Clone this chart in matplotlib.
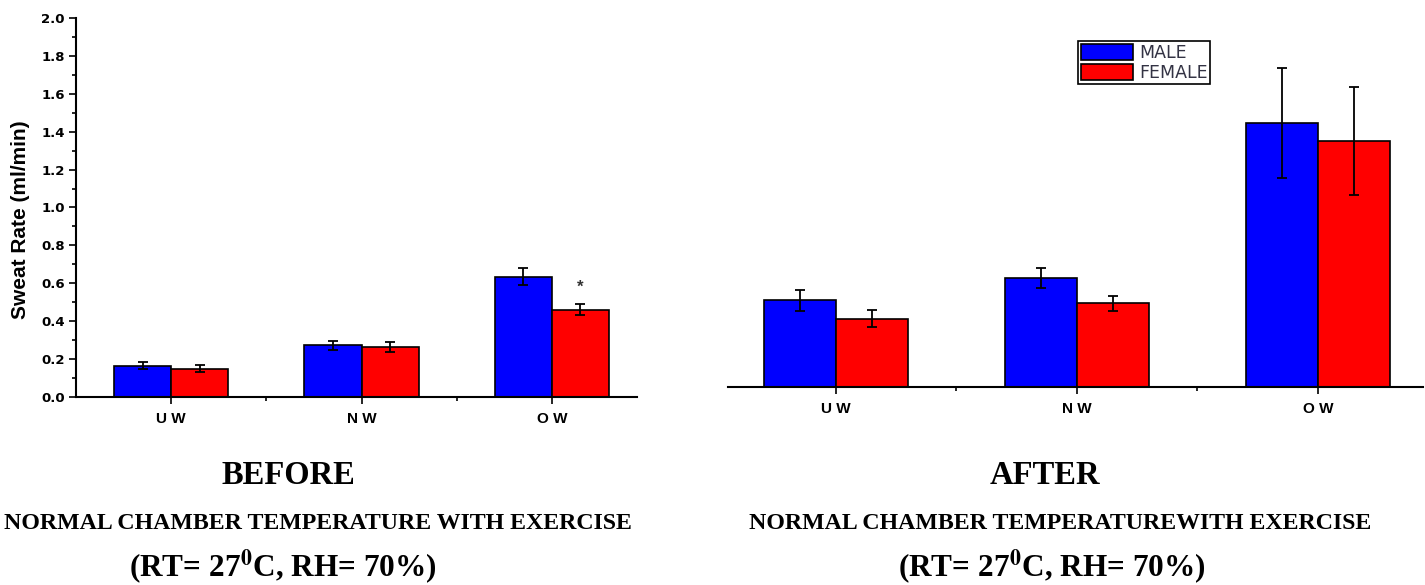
import numpy as np
import matplotlib
matplotlib.use("Agg")
import matplotlib.pyplot as plt
from matplotlib.patches import Patch
from matplotlib.ticker import MultipleLocator, FixedLocator

# data
groups = ['U W', 'N W', 'O W']
before_male = [0.165, 0.272, 0.635]
before_male_err = [0.018, 0.025, 0.043]
before_female = [0.149, 0.263, 0.459]
before_female_err = [0.019, 0.026, 0.029]
after_male = [0.457, 0.577, 1.392]
after_male_err = [0.057, 0.053, 0.291]
after_female = [0.361, 0.441, 1.297]
after_female_err = [0.045, 0.038, 0.286]

blue = '#0000ff'
red = '#ff0000'
sans = ['Liberation Sans', 'DejaVu Sans']
wide = ['DejaVu Sans']
serif = ['Liberation Serif', 'DejaVu Serif']
plt.rcParams['mathtext.fontset'] = 'stix'

fig = plt.figure(figsize=(14.25, 5.85), dpi=100)
ax1 = fig.add_axes([0.0533, 0.3214, 0.3937, 0.6479])
ax2 = fig.add_axes([0.5109, 0.3385, 0.4877, 0.6479])

x = np.arange(1, 4)
w = 0.3


def draw(ax, male, male_err, female, female_err, xlim):
    ax.bar(x - w / 2, male, w, color=blue, edgecolor='black', linewidth=1.2, zorder=2)
    ax.bar(x + w / 2, female, w, color=red, edgecolor='black', linewidth=1.2, zorder=2)
    ax.errorbar(x - w / 2, male, yerr=male_err, fmt='none', ecolor='black',
                elinewidth=1.3, capsize=3.5, capthick=1.3, zorder=3)
    ax.errorbar(x + w / 2, female, yerr=female_err, fmt='none', ecolor='black',
                elinewidth=1.3, capsize=3.5, capthick=1.3, zorder=3)
    ax.set_xlim(*xlim)
    ax.set_ylim(0, 2.0)
    ax.set_xticks(x)
    ax.set_xticklabels(groups, fontsize=11, fontweight='bold', family=sans)
    ax.xaxis.set_minor_locator(FixedLocator([1.5, 2.5]))
    ax.tick_params(axis='x', which='major', direction='out', length=5, width=1.2, pad=6)
    ax.tick_params(axis='x', which='minor', direction='out', length=3, width=1.2)
    for s in ['top', 'right']:
        ax.spines[s].set_visible(False)
    ax.spines['bottom'].set_linewidth(1.5)


draw(ax1, before_male, before_male_err, before_female, before_female_err, (0.5, 3.447))
draw(ax2, after_male, after_male_err, after_female, after_female_err, (0.552, 3.436))

ax1.spines['left'].set_linewidth(1.5)
ax1.yaxis.set_minor_locator(MultipleLocator(0.1))
ax1.tick_params(axis='y', which='major', direction='out', length=5, width=1.2, pad=3)
ax1.tick_params(axis='y', which='minor', direction='out', length=3, width=1.2)
ax1.set_yticks(np.arange(0, 2.01, 0.2))
ax1.set_yticklabels(['%.1f' % v for v in np.arange(0, 2.01, 0.2)],
                    fontsize=9.5, fontweight='bold', family=wide)
ax1.set_ylabel('Sweat Rate (ml/min)', fontsize=15, fontweight='bold', family=sans)
ax1.yaxis.set_label_coords(-0.082, 0.467)
ax1.text(x[2] + w / 2, 0.58, '*', ha='center', va='center', fontsize=12,
         fontweight='bold', color='#333333', family=sans)

ax2.spines['left'].set_visible(False)
ax2.set_yticks([])

handles = [Patch(facecolor=blue, edgecolor='black', linewidth=1.2),
           Patch(facecolor=red, edgecolor='black', linewidth=1.2)]
leg = ax2.legend(handles, ['MALE', 'FEMALE'], loc='upper left',
                 bbox_to_anchor=(0.5036, 0.913), fancybox=False, framealpha=1,
                 edgecolor='black', handlelength=3.0, handleheight=1.05,
                 handletextpad=0.35, borderpad=0.15, labelspacing=0.12,
                 borderaxespad=0, prop={'family': wide, 'size': 12.5})
leg.get_frame().set_linewidth(1.2)
for t in leg.get_texts():
    t.set_color('#333344')

# captions under the panels
heads = ['BEFORE', 'AFTER']
subs = ['NORMAL CHAMBER TEMPERATURE WITH EXERCISE',
        'NORMAL CHAMBER TEMPERATUREWITH EXERCISE']
head_x = [288, 1045]
sub_x = [318, 1060]
cond_x = [283, 1052]
for i in range(2):
    fig.text(head_x[i] / 1425, 1 - 484 / 585, heads[i], ha='center', va='baseline',
             fontsize=23.5, fontweight='bold', family=serif)
    fig.text(sub_x[i] / 1425, 1 - 529 / 585, subs[i], ha='center', va='baseline',
             fontsize=17.2, fontweight='bold', family=serif)
    fig.text(cond_x[i] / 1425, 1 - 577 / 585, r'(RT= 27$^{\mathbf{0}}$C, RH= 70%)',
             ha='center', va='baseline', fontsize=22.5, fontweight='bold', family=serif)

fig.savefig('out.png', dpi=100)
